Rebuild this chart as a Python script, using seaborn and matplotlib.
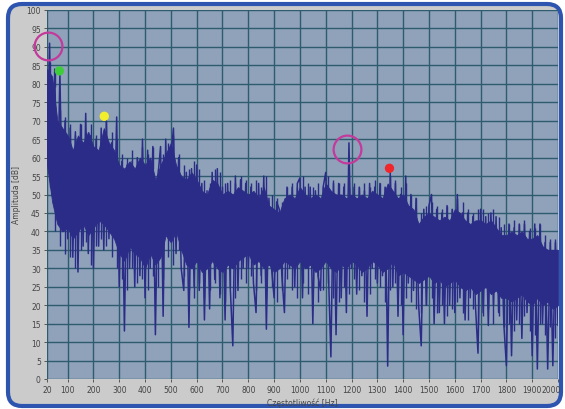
import numpy as np
import seaborn as sns
import matplotlib.pyplot as plt
from matplotlib.patches import FancyBboxPatch
from matplotlib.transforms import IdentityTransform, ScaledTranslation

# spectrum, one value every 10 Hz starting at 20 Hz
amp = [
    60, 91, 50, 84, 45, 83, 40, 70, 38, 68,      # 20-110
    33, 67, 29, 69, 36, 72, 34, 66, 30, 65,      # 120-210
    36, 68, 35, 70, 38, 64, 40, 71, 25, 59,      # 220-310
    13, 58, 30, 59, 25, 60, 28, 65, 22, 62,      # 320-410
    30, 63, 12, 55, 63, 17, 65, 38, 60, 68,      # 420-510
    34, 60, 30, 24, 56, 14, 57, 25, 58, 24,      # 520-610
    53, 16, 51, 19, 56, 27, 57, 22, 52, 16,      # 620-710
    53, 25, 9, 55, 24, 54, 30, 53, 30, 52,       # 720-810
    26, 18, 53, 28, 55, 13.5, 49, 30, 22, 48,    # 820-910
    46, 28, 18, 52, 30, 52, 25, 53, 54.5, 22,    # 920-1010
    52, 30, 52, 15, 51, 28, 24, 52, 56, 30,      # 1020-1110
    6, 53, 12, 53, 22, 52, 18, 64, 30, 52,       # 1120-1210
    23, 52, 28, 51, 17, 53, 30, 52, 26, 53,      # 1220-1310
    28, 52, 3.5, 56, 25, 53, 17, 50, 12, 55,     # 1320-1410
    26, 50, 24, 49, 20, 9, 46, 20, 47, 50,       # 1420-1510
    15, 46, 18, 45, 15, 47, 20, 46, 18, 50,      # 1520-1610
    22, 45, 16, 45, 22, 44, 20, 7, 46, 18,       # 1620-1710
    44, 14.5, 45, 20, 44, 18, 41, 15, 3.6, 42,   # 1720-1810
    6.3, 41, 16, 42, 11, 42, 18, 40, 6.3, 42,    # 1820-1910
    2.7, 42, 15, 37, 2.7, 37, 3.6, 37, 14.5,     # 1920-2000
]
freq = np.arange(20, 20 + 10 * len(amp), 10)

# dense core of the spectrum (solid band), one value every 20 Hz from 20 Hz
body_hi = [
    84, 82, 70, 68, 66, 62, 66, 64, 67, 63,     # 20-200
    62, 68, 64, 62, 58, 57, 59, 57, 60, 58,     # 220-400
    60, 54, 58, 61, 64, 58, 55, 54, 56, 54,     # 420-600
    51, 50, 54, 53, 50, 51, 50, 52, 51, 50,     # 620-800
    51, 49, 52, 47, 46, 45, 49, 50, 49, 52,     # 820-1000
    50, 49, 50, 49, 53, 51, 50, 50, 49, 50,     # 1020-1200
    49, 50, 49, 51, 50, 49, 53, 51, 49, 50,     # 1220-1400
    47, 46, 42, 44, 45, 44, 43, 44, 43, 46,     # 1420-1600
    45, 43, 42, 43, 43, 42, 43, 41, 39, 39,     # 1620-1800
    40, 39, 40, 38, 38, 39, 36, 35, 35, 35,     # 1820-2000
]
body_lo = [
    58, 48, 42, 40, 41, 38, 40, 42, 39, 41,     # 20-200
    43, 42, 40, 38, 34, 32, 36, 34, 33, 30,     # 220-400
    34, 31, 33, 39, 37, 40, 35, 31, 30, 32,     # 420-600
    29, 30, 32, 30, 29, 31, 30, 32, 33, 34,     # 620-800
    31, 32, 30, 31, 29, 30, 32, 31, 30, 32,     # 820-1000
    30, 31, 29, 30, 32, 30, 29, 31, 30, 32,     # 1020-1200
    31, 29, 30, 32, 31, 29, 30, 32, 28, 29,     # 1220-1400
    28, 27, 26, 27, 28, 26, 27, 25, 26, 27,     # 1420-1600
    25, 24, 25, 23, 24, 25, 23, 24, 22, 22,     # 1620-1800
    21, 22, 23, 21, 20, 22, 20, 21, 19, 20,     # 1820-2000
]
body_freq = np.arange(20, 20 + 20 * len(body_hi), 20)

# short spikes just outside the core, one each 20 Hz, 10 Hz past the core grid
fringe_hi = [
    86, 84, 73, 71, 69, 66, 69, 67, 69, 66,
    65, 70, 67, 65, 61, 60, 62, 60, 63, 61,
    63, 57, 61, 64, 66, 61, 58, 57, 59, 57,
    54, 53, 57, 56, 53, 54, 53, 55, 54, 53,
    54, 52, 55, 50, 49, 48, 52, 53, 52, 55,
    53, 52, 53, 52, 55, 54, 53, 53, 52, 53,
    52, 53, 52, 54, 53, 52, 55, 54, 52, 53,
    50, 49, 45, 47, 48, 47, 46, 47, 46, 49,
    48, 46, 45, 46, 46, 45, 46, 44, 42, 42,
    43, 42, 43, 41, 41, 42, 39, 38, 38, 38,
]
fringe_lo = [
    52, 40, 36, 34, 33, 30, 35, 37, 31, 36,
    38, 36, 33, 30, 27, 24, 30, 26, 27, 24,
    28, 25, 27, 33, 31, 35, 28, 24, 22, 26,
    22, 24, 26, 23, 21, 25, 22, 27, 26, 28,
    24, 26, 22, 25, 21, 24, 27, 24, 22, 26,
    23, 25, 21, 24, 26, 22, 21, 25, 23, 27,
    24, 21, 23, 27, 25, 21, 24, 26, 20, 22,
    21, 19, 18, 20, 22, 18, 20, 17, 19, 21,
    18, 16, 19, 15, 17, 19, 15, 17, 14, 15,
    13, 15, 17, 13, 12, 15, 12, 14, 11, 13,
]

# annotations drawn on the original
ring_f = [25, 1184]
ring_a = [90.2, 62.4]
dot_f = [68, 242, 1347]
dot_a = [83.5, 71.2, 57.1]
dot_colors = ["#3fcc3a", "#f2ee2c", "#f0262a"]

xticks = [20] + list(range(100, 2001, 100))
yticks = list(range(0, 101, 5))

navy = "#2b2b88"

sns.set_style("whitegrid", rc={
    "axes.facecolor": "#8fa2ba",
    "grid.color": "#2f5b6f",
    "axes.edgecolor": "#8fa2ba",
})
plt.rcParams["font.family"] = ["DejaVu Sans"]

fig = plt.figure(figsize=(5.65, 4.10), dpi=100)
fig.patch.set_facecolor("white")
frame = FancyBboxPatch((8, 3), 553, 402, boxstyle="round,pad=0,rounding_size=14",
                       transform=IdentityTransform(), facecolor="#cbcbcb",
                       edgecolor="#2d55b0", linewidth=3, zorder=-5)
fig.patches.append(frame)

ax = fig.add_axes([47 / 565, 30 / 410, 511 / 565, 369 / 410])
ax.set_zorder(1)

ax.fill_between(body_freq, body_lo, body_hi, color=navy, linewidth=0.6,
                edgecolor=navy, zorder=2)
fringe_f = body_freq + 10
ax.vlines(fringe_f, np.array(body_hi) - 3, fringe_hi, color=navy, linewidth=1.0, zorder=2)
ax.vlines(fringe_f, fringe_lo, np.array(body_lo) + 3, color=navy, linewidth=1.0, zorder=2)
sns.lineplot(x=freq, y=amp, ax=ax, color=navy, linewidth=1.1, estimator=None, zorder=3)

for f, a in zip(ring_f, ring_a):
    ax.plot(f, a, marker="o", markersize=20, markerfacecolor="none",
            markeredgecolor="#c33a9c", markeredgewidth=1.6, zorder=5, clip_on=False)
ax.scatter(dot_f, dot_a, s=45, c=dot_colors, edgecolors="none", zorder=5)

ax.set_xlim(20, 2000)
ax.set_ylim(0, 100)
ax.set_xticks(xticks)
ax.set_yticks(yticks)
ax.grid(True, linewidth=1.0)
ax.tick_params(axis="both", labelsize=5.5, colors="#444444", length=2.5, width=0.6,
               pad=2, left=True, bottom=True)
ax.set_xlabel("Częstotliwość [Hz]", fontsize=5.5, color="#444444", labelpad=2)
ax.set_ylabel("Amplituda [dB]", fontsize=5.5, color="#444444", labelpad=4)
for s in ax.spines.values():
    s.set_visible(False)

# last tick label sits a little left of its tick, inside the frame
last = ax.get_xticklabels()[-1]
last.set_transform(last.get_transform() + ScaledTranslation(-5 / 72, 0, fig.dpi_scale_trans))

fig.savefig("out.png", dpi=100)
